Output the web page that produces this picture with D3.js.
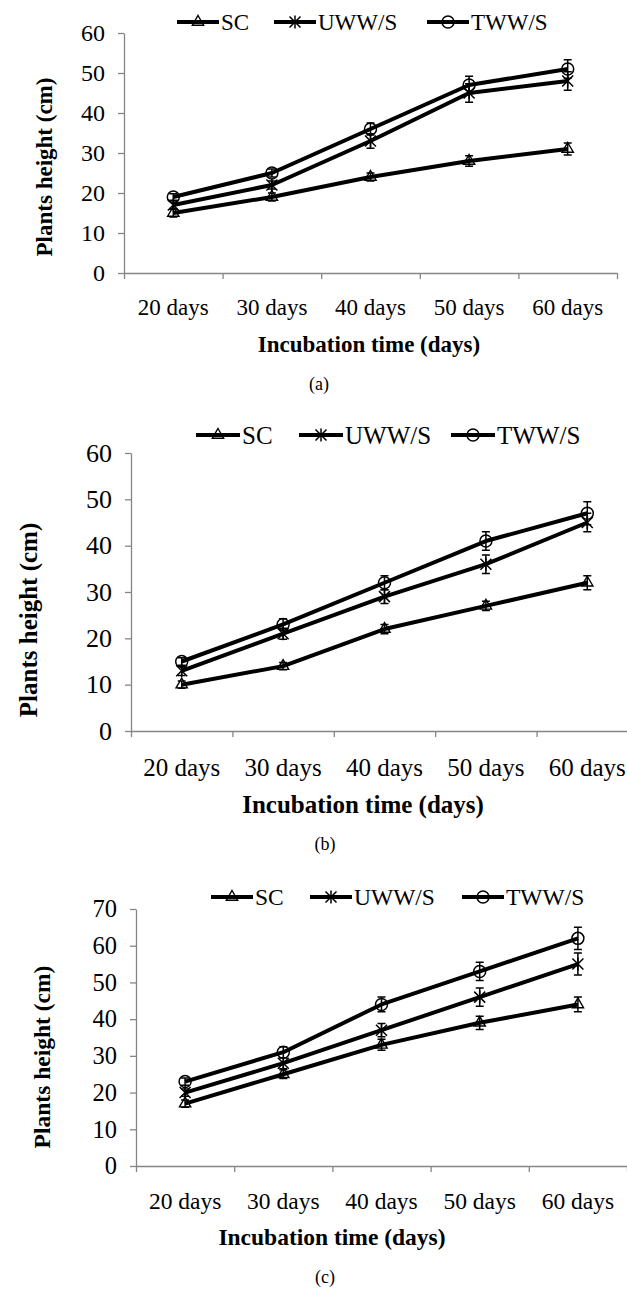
<!DOCTYPE html>
<html>
<head>
<meta charset="utf-8">
<script src="https://cdnjs.cloudflare.com/ajax/libs/d3/7.8.5/d3.min.js"></script>
<style>
  body { margin: 0; background: #fff; }
  text { font-family: "Liberation Serif", "Times New Roman", serif; fill: #000; }
</style>
</head>
<body>
<script>
// data
const days = ["20 days", "30 days", "40 days", "50 days", "60 days"];
const seriesNames = ["SC", "UWW/S", "TWW/S"];

// panel (a)
const scA = [15, 19, 24, 28, 31];
const uwwA = [17, 22, 33, 45, 48];
const twwA = [19, 25, 36, 47, 51];
const scErrA = [1, 1, 1, 1.3, 1.5];
const uwwErrA = [1, 1, 1.8, 2.3, 2.3];
const twwErrA = [0.8, 1, 1.5, 2.2, 2.3];

// panel (b)
const scB = [10, 14, 22, 27, 32];
const uwwB = [13, 21, 29, 36, 45];
const twwB = [15, 23, 32, 41, 47];
const scErrB = [0.8, 0.8, 1, 1, 1.5];
const uwwErrB = [1, 1.2, 1.5, 2, 2];
const twwErrB = [0.8, 1.2, 1.5, 2, 2.5];

// panel (c)
const scC = [17, 25, 33, 39, 44];
const uwwC = [20, 28, 37, 46, 55];
const twwC = [23, 31, 44, 53, 62];
const scErrC = [1, 1.2, 1.5, 1.8, 2];
const uwwErrC = [1, 1.5, 1.8, 2.5, 3];
const twwErrC = [1, 1.5, 2, 2.5, 3];

const panels = [
  { values: [scA, uwwA, twwA], errs: [scErrA, uwwErrA, twwErrA], max: 60, caption: "(a)",
    left: 124, right: 617, top: 33, y0: 273, fs: 23, legY: 22, legX: [177, 274, 427], legLen: 42,
    labOff: 42, titleY: 352, titleX: 369, capY: 390, capX: 319, yTitleX: 44, yTitleY: 167 },
  { values: [scB, uwwB, twwB], errs: [scErrB, uwwErrB, twwErrB], max: 60, caption: "(b)",
    left: 131, right: 638, top: 453, y0: 731, fs: 25, legY: 435, legX: [196, 299, 451], legLen: 44,
    labOff: 45, titleY: 813, titleX: 363, capY: 850, capX: 325, yTitleX: 28, yTitleY: 620 },
  { values: [scC, uwwC, twwC], errs: [scErrC, uwwErrC, twwErrC], max: 70, caption: "(c)",
    left: 136, right: 627, top: 909, y0: 1166, fs: 23.5, legY: 897, legX: [211, 310, 462], legLen: 42,
    labOff: 43, titleY: 1245, titleX: 332, capY: 1283, capX: 325, yTitleX: 42, yTitleY: 1057 }
];

const svg = d3.select("body").append("svg")
  .attr("width", 627)
  .attr("height", 1292);

svg.append("rect").attr("width", 627).attr("height", 1292).attr("fill", "#fff");

const axisGrey = "#868686";

function drawMarker(g, kind, cx, cy) {
  if (kind === 0) {
    g.append("path")
      .attr("d", d3.symbol().type(d3.symbolTriangle).size(55)())
      .attr("transform", `translate(${cx},${cy})`)
      .attr("fill", "none").attr("stroke", "#000").attr("stroke-width", 1.4);
  } else if (kind === 1) {
    const s = 5.5;
    g.append("path")
      .attr("d", `M${cx - s},${cy - s}L${cx + s},${cy + s}M${cx - s},${cy + s}L${cx + s},${cy - s}M${cx},${cy - s - 1}L${cx},${cy + s + 1}`)
      .attr("fill", "none").attr("stroke", "#000").attr("stroke-width", 1.5);
  } else {
    g.append("circle")
      .attr("cx", cx).attr("cy", cy).attr("r", 6)
      .attr("fill", "none").attr("stroke", "#000").attr("stroke-width", 1.5);
  }
}

panels.forEach(p => {
  const g = svg.append("g");
  const x = d3.scaleBand().domain(days).range([p.left, p.right]);
  const xb = d3.scaleLinear().domain([0, days.length]).range([p.left, p.right]);
  const y = d3.scaleLinear().domain([0, p.max]).range([p.y0, p.top]);

  // y axis
  const ya = g.append("g")
    .attr("transform", `translate(${p.left},0)`)
    .call(d3.axisLeft(y).tickValues(d3.range(0, p.max + 1, 10)).tickSize(6).tickSizeOuter(0).tickPadding(13));
  ya.select(".domain").attr("stroke", axisGrey).attr("stroke-width", 1.3);
  ya.selectAll(".tick line").attr("stroke", axisGrey).attr("stroke-width", 1.3);
  ya.selectAll(".tick text").attr("font-size", p.fs + 1).attr("font-family", null);

  // x axis: boundary ticks
  const xt = g.append("g")
    .attr("transform", `translate(0,${p.y0})`)
    .call(d3.axisBottom(xb).tickValues(d3.range(0, days.length + 1)).tickSize(6).tickSizeOuter(0).tickFormat(""));
  xt.select(".domain").attr("stroke", axisGrey).attr("stroke-width", 1.3);
  xt.selectAll(".tick line").attr("stroke", axisGrey).attr("stroke-width", 1.3);

  // x axis: category labels
  const xl = g.append("g")
    .attr("transform", `translate(0,${p.y0})`)
    .call(d3.axisBottom(x).tickSize(0).tickPadding(p.labOff - 0.71 * p.fs));
  xl.select(".domain").remove();
  xl.selectAll(".tick text").attr("font-size", p.fs).attr("font-family", null);

  // titles
  g.append("text")
    .attr("x", p.titleX).attr("y", p.titleY)
    .attr("text-anchor", "middle")
    .attr("font-weight", "bold").attr("font-size", p.fs)
    .text("Incubation time (days)");

  g.append("text")
    .attr("transform", `translate(${p.yTitleX},${p.yTitleY}) rotate(-90)`)
    .attr("text-anchor", "middle").attr("dy", "0.35em")
    .attr("font-weight", "bold").attr("font-size", p.fs)
    .text("Plants height (cm)");

  g.append("text")
    .attr("x", p.capX).attr("y", p.capY)
    .attr("text-anchor", "middle")
    .attr("font-size", 18)
    .text(p.caption);

  // series
  const line = d3.line()
    .x((d, i) => x(days[i]) + x.bandwidth() / 2)
    .y(d => y(d));

  p.values.forEach((vals, si) => {
    const sg = g.append("g");
    sg.append("path")
      .datum(vals)
      .attr("d", line)
      .attr("fill", "none")
      .attr("stroke", "#000")
      .attr("stroke-width", 4)
      .attr("stroke-linejoin", "round");

    vals.forEach((v, i) => {
      const cx = x(days[i]) + x.bandwidth() / 2;
      const e = p.errs[si][i];
      const yt = y(v + e), yb = y(v - e);
      sg.append("path")
        .attr("d", `M${cx},${yt}L${cx},${yb}M${cx - 4},${yt}L${cx + 4},${yt}M${cx - 4},${yb}L${cx + 4},${yb}`)
        .attr("stroke", "#000").attr("stroke-width", 1.5).attr("fill", "none");
      drawMarker(sg, si, cx, y(v));
    });
  });

  // legend
  seriesNames.forEach((name, si) => {
    const lx = p.legX[si];
    const lg = g.append("g");
    drawMarker(lg, si, lx + p.legLen / 2, p.legY);
    lg.append("line")
      .attr("x1", lx).attr("x2", lx + p.legLen)
      .attr("y1", p.legY).attr("y2", p.legY)
      .attr("stroke", "#000").attr("stroke-width", 4);
    lg.append("text")
      .attr("x", lx + p.legLen + 2).attr("y", p.legY)
      .attr("dy", "0.35em")
      .attr("font-size", p.fs)
      .text(name);
  });
});
</script>
</body>
</html>
